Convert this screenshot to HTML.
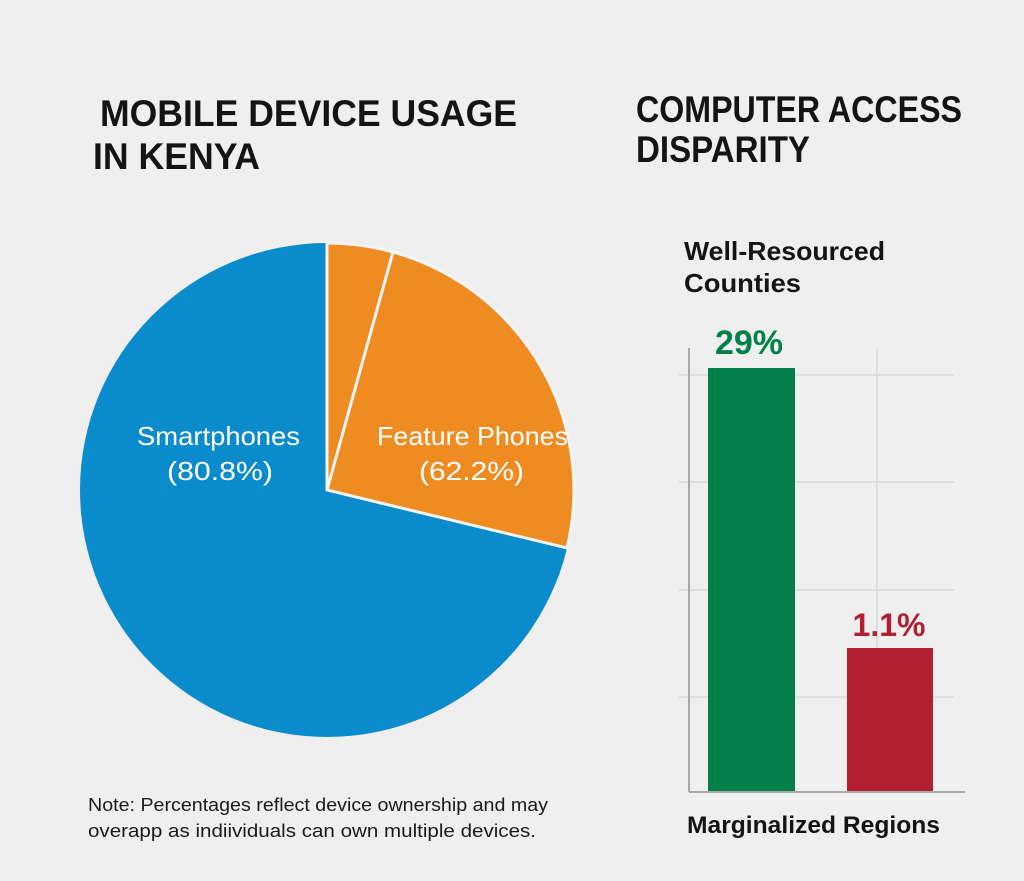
<!DOCTYPE html>
<html><head><meta charset="utf-8"><style>
html,body{margin:0;padding:0;background:#efefef;}
svg{display:block;font-family:"Liberation Sans",Arial,sans-serif;}
</style></head><body>
<svg width="1024" height="881" viewBox="0 0 1024 881" xmlns="http://www.w3.org/2000/svg">
<rect width="1024" height="881" fill="#efefef"/>
<g font-weight="bold" fill="#141414" font-size="37">
<text x="100" y="126" textLength="417" lengthAdjust="spacingAndGlyphs">MOBILE DEVICE USAGE</text>
<text x="93" y="169" textLength="167" lengthAdjust="spacingAndGlyphs">IN KENYA</text>
<text x="636" y="122" textLength="326" lengthAdjust="spacingAndGlyphs">COMPUTER ACCESS</text>
<text x="636" y="162" textLength="174" lengthAdjust="spacingAndGlyphs">DISPARITY</text>
</g>
<g font-weight="bold" fill="#141414" font-size="26">
<text x="684" y="260" textLength="201" lengthAdjust="spacingAndGlyphs">Well-Resourced</text>
<text x="684" y="292" textLength="117" lengthAdjust="spacingAndGlyphs">Counties</text>
<text x="687" y="833" font-size="24" textLength="253" lengthAdjust="spacingAndGlyphs">Marginalized Regions</text>
</g>
<circle cx="327" cy="490" r="247" fill="#0a8bcb"/>
<path d="M327,490 L327,243 A247,247 0 0 1 567,548 Z" fill="#ee8c22" stroke="#f4f4f4" stroke-width="3"/>
<line x1="327" y1="490" x2="393" y2="252" stroke="#f4f4f4" stroke-width="3"/>
<g fill="#fff" font-size="26">
<text x="137" y="445" textLength="163" lengthAdjust="spacingAndGlyphs">Smartphones</text>
<text x="167" y="480" textLength="106" lengthAdjust="spacingAndGlyphs">(80.8%)</text>
<text x="377" y="445" textLength="191" lengthAdjust="spacingAndGlyphs">Feature Phones</text>
<text x="419" y="480" textLength="105" lengthAdjust="spacingAndGlyphs">(62.2%)</text>
</g>
<g fill="#1a1a1a" font-size="18">
<text x="88" y="811" textLength="460" lengthAdjust="spacingAndGlyphs">Note: Percentages reflect device ownership and may</text>
<text x="88" y="837" textLength="448" lengthAdjust="spacingAndGlyphs">overapp as indiividuals can own multiple devices.</text>
</g>
<g stroke="#d8d8d8" stroke-width="1.5">
<line x1="679" y1="375" x2="954" y2="375"/>
<line x1="679" y1="482" x2="954" y2="482"/>
<line x1="679" y1="590" x2="954" y2="590"/>
<line x1="679" y1="697" x2="954" y2="697"/>
<line x1="877" y1="348" x2="877" y2="792"/>
</g>
<rect x="708" y="368" width="87" height="424" fill="#03804a"/>
<rect x="847" y="648" width="86" height="144" fill="#b02032"/>
<line x1="689" y1="348" x2="689" y2="792" stroke="#a8a8a8" stroke-width="2"/>
<line x1="689" y1="792" x2="965" y2="792" stroke="#a8a8a8" stroke-width="2"/>
<text x="749" y="354" font-size="34" font-weight="bold" fill="#03804a" text-anchor="middle">29%</text>
<text x="889" y="636" font-size="32" font-weight="bold" fill="#b02032" text-anchor="middle">1.1%</text>
</svg>
</body></html>
